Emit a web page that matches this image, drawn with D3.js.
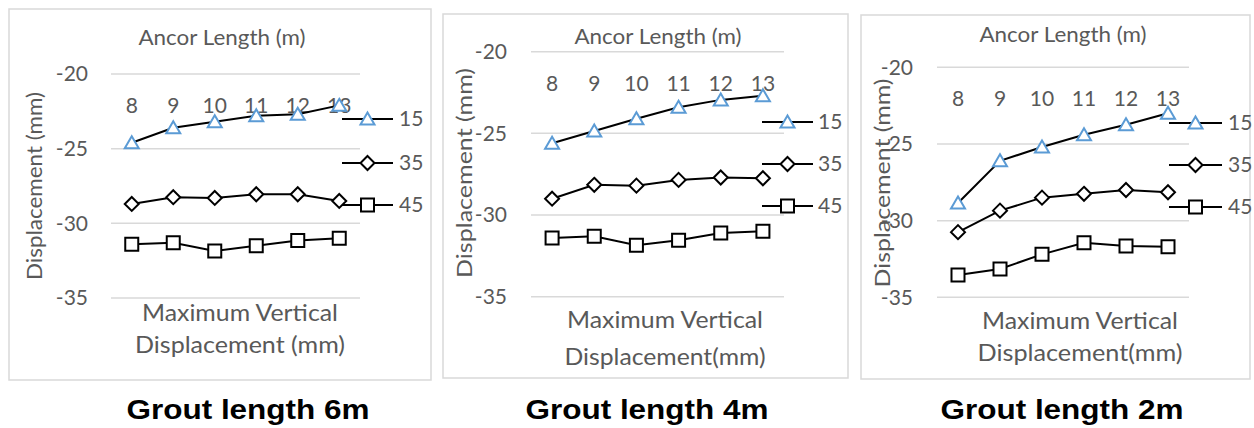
<!DOCTYPE html>
<html>
<head>
<meta charset="utf-8">
<title>Maximum Vertical Displacement</title>
<script src="https://cdn.jsdelivr.net/npm/d3@7"></script>
<style>
  body { margin: 0; background: #fff; }
  text { font-family: Lato, "Open Sans", sans-serif; fill: #595959; }
</style>
</head>
<body>
<script>
// ancor lengths (m)
var categories = [8, 9, 10, 11, 12, 13];
var seriesNames = ["15", "35", "45"];
var yTicks = [-20, -25, -30, -35];
var panelTitles = ["Grout length 6m", "Grout length 4m", "Grout length 2m"];

// grout 6m
var g6_15 = [-24.6, -23.6, -23.2, -22.8, -22.7, -22.1];
var g6_35 = [-28.7, -28.25, -28.3, -28.05, -28.05, -28.5];
var g6_45 = [-31.4, -31.3, -31.85, -31.5, -31.15, -31.0];
// grout 4m
var g4_15 = [-25.6, -24.85, -24.1, -23.4, -22.95, -22.7];
var g4_35 = [-29.0, -28.15, -28.2, -27.85, -27.7, -27.75];
var g4_45 = [-31.4, -31.3, -31.85, -31.55, -31.1, -31.0];
// grout 2m
var g2_15 = [-28.85, -26.1, -25.2, -24.4, -23.75, -23.0];
var g2_35 = [-30.75, -29.35, -28.5, -28.25, -28.0, -28.15];
var g2_45 = [-33.55, -33.15, -32.2, -31.45, -31.65, -31.7];

var panelData = [[g6_15, g6_35, g6_45], [g4_15, g4_35, g4_45], [g2_15, g2_35, g2_45]];

// layout of each panel (pixels)
var layouts = [
  {box: [9, 9, 431, 380], gx: [111, 360], gy: [74, 298], catY: 106, tickR: 88,
   yTitle: [35, 186, 188], top: [222, 38, 167], leg: [342, 393, 398], legY: [119, 163, 205],
   xTitle: [240, 313, 345, "Displacement (mm)", 210], main: 248},
  {box: [443, 14, 848, 378], gx: [531, 784], gy: [51.7, 296.7], catY: 84, tickR: 507,
   yTitle: [465, 173, 210], top: [658, 37, 167], leg: [762, 813, 817], legY: [122, 164, 206],
   xTitle: [665, 320, 357, "Displacement(mm)", 201], main: 647},
  {box: [861, 15, 1250, 379], gx: [937, 1189], gy: [67.3, 297.3], catY: 99, tickR: 913,
   yTitle: [883, 183, 209], top: [1063, 35, 167], leg: [1169, 1222, 1227], legY: [123, 165, 207],
   xTitle: [1080, 321, 353, "Displacement(mm)", 205], main: 1062}
];

var svg = d3.select("body").append("svg")
  .attr("width", 1254)
  .attr("height", 428);

// marker shapes: triangle, diamond, square
var markerPaths = [
  "M0,-6.5L7,5.5L-7,5.5Z",
  "M0,-7L7,0L0,7L-7,0Z",
  "M-6.5,-6.5H6.5V6.5H-6.5Z"
];
var markerColors = ["#5b9bd5", "#000", "#000"];

function drawMarker(g, i, x, y) {
  g.append("path")
    .attr("d", markerPaths[i])
    .attr("transform", "translate(" + x + "," + y + ")")
    .attr("fill", "#fff")
    .attr("stroke", markerColors[i])
    .attr("stroke-width", 2);
}

layouts.forEach(function(L, p) {
  var g = svg.append("g");

  g.append("rect")
    .attr("x", L.box[0]).attr("y", L.box[1])
    .attr("width", L.box[2] - L.box[0]).attr("height", L.box[3] - L.box[1])
    .attr("fill", "none").attr("stroke", "#d9d9d9").attr("stroke-width", 1.5);

  var x = d3.scaleBand().domain(categories).range(L.gx);
  var y = d3.scaleLinear().domain([-35, -20]).range([L.gy[1], L.gy[0]]);
  var cx = function(c) { return x(c) + x.bandwidth() / 2; };

  // gridlines
  g.selectAll(".grid").data(yTicks).enter().append("line")
    .attr("x1", L.gx[0]).attr("x2", L.gx[1])
    .attr("y1", function(d) { return y(d); }).attr("y2", function(d) { return y(d); })
    .attr("stroke", "#d9d9d9").attr("stroke-width", 1.5);

  // y tick labels
  g.selectAll(".ytl").data(yTicks).enter().append("text")
    .attr("x", L.tickR).attr("y", function(d) { return y(d); })
    .attr("dy", "0.35em").attr("text-anchor", "end")
    .style("font-size", "21px")
    .text(function(d) { return d; });

  // y title
  g.append("text")
    .attr("transform", "translate(" + L.yTitle[0] + "," + L.yTitle[1] + ") rotate(-90)")
    .attr("dy", "0.35em").attr("text-anchor", "middle")
    .attr("textLength", L.yTitle[2]).attr("lengthAdjust", "spacingAndGlyphs")
    .style("font-size", "21px")
    .text("Displacement (mm)");

  // top title
  g.append("text")
    .attr("x", L.top[0]).attr("y", L.top[1]).attr("dy", "0.35em")
    .attr("text-anchor", "middle")
    .attr("textLength", L.top[2]).attr("lengthAdjust", "spacingAndGlyphs")
    .style("font-size", "21px")
    .text("Ancor Length (m)");

  // category labels
  g.selectAll(".cat").data(categories).enter().append("text")
    .attr("x", cx).attr("y", L.catY).attr("dy", "0.35em")
    .attr("text-anchor", "middle")
    .style("font-size", "21px")
    .text(function(d) { return d; });

  // x title
  g.append("text")
    .attr("x", L.xTitle[0]).attr("y", L.xTitle[1]).attr("dy", "0.35em")
    .attr("text-anchor", "middle")
    .attr("textLength", 196).attr("lengthAdjust", "spacingAndGlyphs")
    .style("font-size", "23px")
    .text("Maximum Vertical");
  g.append("text")
    .attr("x", L.xTitle[0]).attr("y", L.xTitle[2]).attr("dy", "0.35em")
    .attr("text-anchor", "middle")
    .attr("textLength", L.xTitle[4]).attr("lengthAdjust", "spacingAndGlyphs")
    .style("font-size", "23px")
    .text(L.xTitle[3]);

  // series
  var line = d3.line()
    .x(function(d, i) { return cx(categories[i]); })
    .y(function(d) { return y(d); });

  panelData[p].forEach(function(vals, si) {
    g.append("path")
      .attr("d", line(vals))
      .attr("fill", "none").attr("stroke", "#000").attr("stroke-width", 2);
    vals.forEach(function(v, i) {
      drawMarker(g, si, cx(categories[i]), y(v));
    });
  });

  // legend
  seriesNames.forEach(function(name, si) {
    var ly = L.legY[si];
    g.append("line")
      .attr("x1", L.leg[0]).attr("x2", L.leg[1]).attr("y1", ly).attr("y2", ly)
      .attr("stroke", "#000").attr("stroke-width", 2);
    drawMarker(g, si, (L.leg[0] + L.leg[1]) / 2, ly);
    g.append("text")
      .attr("x", L.leg[2] + 1).attr("y", ly).attr("dy", "0.35em")
      .style("font-size", "21px")
      .text(name);
  });

  // panel caption
  svg.append("text")
    .attr("x", L.main).attr("y", 419)
    .attr("text-anchor", "middle")
    .attr("textLength", 243).attr("lengthAdjust", "spacingAndGlyphs")
    .style("font-family", "'Liberation Sans', Arial, sans-serif")
    .style("font-weight", "bold")
    .style("font-size", "28px")
    .style("fill", "#000")
    .text(panelTitles[p]);
});
</script>
</body>
</html>
